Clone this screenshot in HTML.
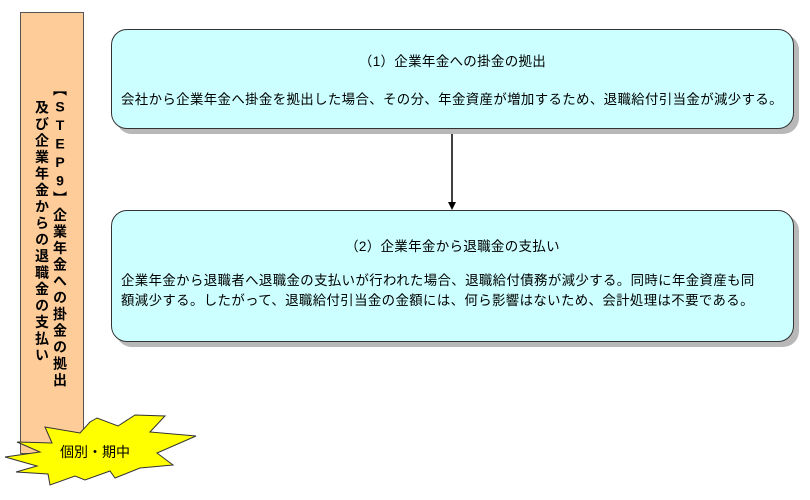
<!DOCTYPE html>
<html><head><meta charset="utf-8"><style>
body{margin:0;width:810px;height:500px;background:#fff;position:relative;overflow:hidden;font-family:"Liberation Sans","Noto Sans CJK JP",sans-serif;color:#000}
.bar{position:absolute;left:20px;top:12px;width:62px;height:440px;background:#fecc99;border:1px solid #555}
.vt{position:absolute;writing-mode:vertical-rl;text-orientation:upright;font-size:14px;letter-spacing:2.5px;font-weight:bold;line-height:16px}
.box{position:absolute;left:111px;width:681px;background:#ccffff;border:1px solid #333;border-radius:16px;box-shadow:5px 5px 0 #b8b8b8;font-size:13px}
.t{position:absolute;left:0;right:0;text-align:center;font-size:13.5px;letter-spacing:0.3px}
.p{position:absolute;left:9px;right:0;line-height:20px;font-size:13.4px;letter-spacing:0.4px;white-space:nowrap}
</style></head><body>
<div class="bar"></div>
<div class="vt" style="left:52px;top:82px">【STEP9】企業年金への掛金の拠出</div>
<div class="vt" style="left:34px;top:100px">及び企業年金からの退職金の支払い</div>
<svg style="position:absolute;left:0;top:0" width="810" height="500">
<polygon points="17,442 40,452 5,457 37,466 16,472 48,474 50,485 75,476 85,480 110,471 115,478 140,468 173,465 157,453 196,436 150,432 165,416 135,415 118,426 97,418 90,422 80,433 45,427 52,443" fill="#ffff00" stroke="#333" stroke-width="1"/>
<text x="95" y="457" font-size="14" text-anchor="middle" font-family="Liberation Sans,Noto Sans CJK JP,sans-serif">個別・期中</text>
<line x1="452" y1="128" x2="452" y2="203" stroke="#000" stroke-width="1.5"/>
<polygon points="448,202 456,202 452,210" fill="#000"/>
</svg>
<div class="box" style="top:29px;height:98px">
<div class="t" style="top:20px">（1）企業年金への掛金の拠出</div>
<div class="p" style="top:60px">会社から企業年金へ掛金を拠出した場合、その分、年金資産が増加するため、退職給付引当金が減少する。</div>
</div>
<div class="box" style="top:210px;height:130px">
<div class="t" style="top:24px">（2）企業年金から退職金の支払い</div>
<div class="p" style="top:60px">企業年金から退職者へ退職金の支払いが行われた場合、退職給付債務が減少する。同時に年金資産も同<br>額減少する。したがって、退職給付引当金の金額には、何ら影響はないため、会計処理は不要である。</div>
</div>
</body></html>
